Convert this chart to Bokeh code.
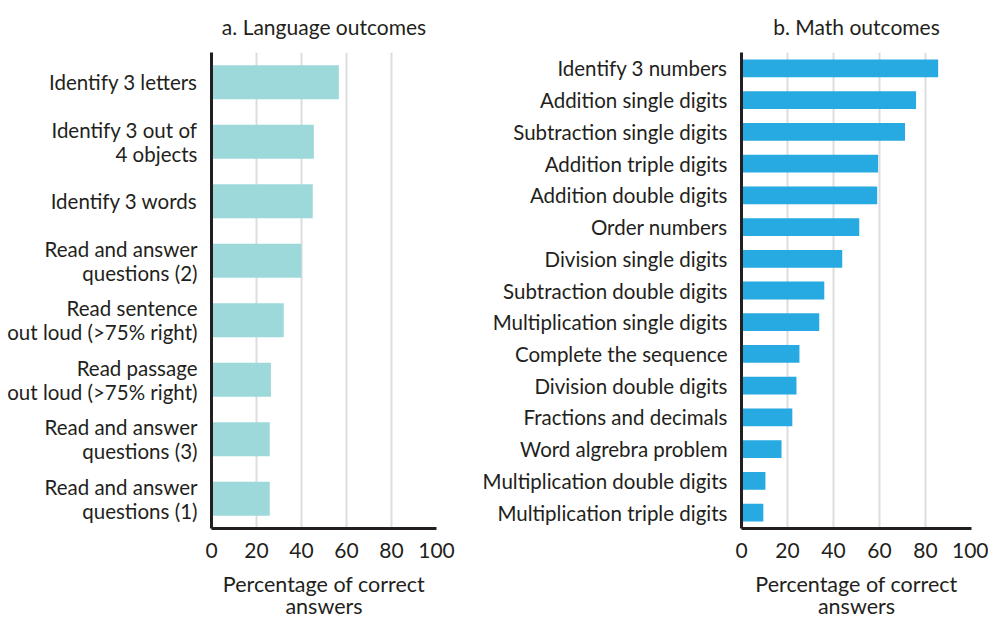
from bokeh.plotting import figure
from bokeh.layouts import row
from bokeh.models import FactorRange, FixedTicker
from bokeh.embed import file_html
from bokeh.resources import INLINE

lang_labels = [
    "Identify 3 letters",
    "Identify 3 out of\n4 objects",
    "Identify 3 words",
    "Read and answer\nquestions (2)",
    "Read sentence\nout loud (>75% right)",
    "Read passage\nout loud (>75% right)",
    "Read and answer\nquestions (3)",
    "Read and answer\nquestions (1)",
]
lang_values = [56.6, 45.5, 45.0, 40.0, 32.1, 26.4, 25.9, 25.9]

math_labels = [
    "Identify 3 numbers",
    "Addition single digits",
    "Subtraction single digits",
    "Addition triple digits",
    "Addition double digits",
    "Order numbers",
    "Division single digits",
    "Subtraction double digits",
    "Multiplication single digits",
    "Complete the sequence",
    "Division double digits",
    "Fractions and decimals",
    "Word algrebra problem",
    "Multiplication double digits",
    "Multiplication triple digits",
]
math_values = [85.5, 75.9, 71.1, 59.4, 59.0, 51.2, 43.8, 36.0, 33.8, 25.2, 23.9, 22.1, 17.4, 10.4, 9.5]

x_ticks = [0, 20, 40, 60, 80, 100]
x_title = "Percentage of correct\nanswers"

FONT = "Lato"
TXT = "#231f20"
H = 621


def make_panel(title, labels, values, color, width, border_left, border_right, bar_h):
    p = figure(
        width=width, height=H,
        y_range=FactorRange(*list(reversed(labels))),
        x_range=(0, 100),
        output_backend="svg", toolbar_location=None,
        min_border_left=border_left, min_border_right=border_right,
        min_border_top=52, min_border_bottom=91,
        title=title,
    )
    p.hbar(y=labels, right=values, left=0, height=bar_h, color=color, line_color=None)
    p.title.align = "center"
    p.title.vertical_align = "top"
    p.title.text_font = FONT
    p.title.text_font_size = "21px"
    p.title.text_font_style = "normal"
    p.title.text_color = TXT
    p.title.offset = 0
    p.title.standoff = 24
    p.outline_line_color = None
    p.ygrid.grid_line_color = None
    p.xgrid.grid_line_color = "#dddddd"
    p.xgrid.grid_line_width = 2
    p.xgrid.ticker = FixedTicker(ticks=[20, 40, 60, 80, 100])
    p.xaxis.ticker = FixedTicker(ticks=x_ticks)
    p.xaxis.axis_label = x_title
    p.xaxis.axis_label_text_font = FONT
    p.xaxis.axis_label_text_font_size = "21.5px"
    p.xaxis.axis_label_text_font_style = "normal"
    p.xaxis.axis_label_text_color = TXT
    p.xaxis.axis_label_text_line_height = 0.85
    p.xaxis.axis_label_standoff = 10
    for ax in (p.xaxis, p.yaxis):
        ax.major_tick_line_color = None
        ax.minor_tick_line_color = None
        ax.axis_line_color = "#231f20"
        ax.axis_line_width = 3
        ax.major_label_text_font = FONT
        ax.major_label_text_color = TXT
    p.xaxis.major_label_text_font_size = "21px"
    p.xaxis.major_label_standoff = 8
    p.yaxis.major_label_text_font_size = "20.5px"
    p.yaxis.major_label_text_line_height = 1.0
    p.yaxis.major_label_standoff = 8
    p.y_range.range_padding = 0
    return p


left = make_panel("a. Language outcomes", lang_labels, lang_values, "#9dd9da", 460, 211, 24, 0.57)
right = make_panel("b. Math outcomes", math_labels, math_values, "#27aae1", 528, 281, 17, 0.56)

layout = row(left, right)
open("out.html", "w").write(file_html(layout, INLINE))
